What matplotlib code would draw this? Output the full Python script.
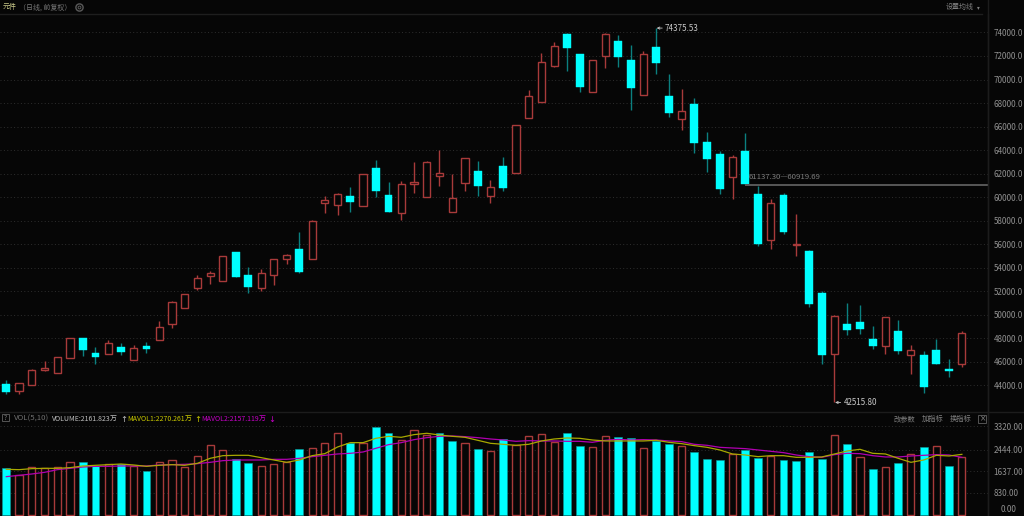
import matplotlib
matplotlib.use('Agg')
import matplotlib.pyplot as plt
from matplotlib.patches import Rectangle, Circle

# Daily candles
opens = [44060, 43520, 44030, 45310, 45050, 46300, 48000, 46750, 46670, 47270,
         46160, 47290, 47810, 49230, 50590, 52290, 53320, 52890, 55280, 53350,
         52290, 53400, 54710, 55590, 54740, 59450, 59280, 60060, 59230, 62470,
         60200, 58640, 61110, 60000, 61790, 58750, 61190, 62190, 60110, 62610,
         62020, 66730, 68090, 71160, 73830, 72130, 68950, 72010, 73290, 71700,
         68720, 72750, 68630, 66670, 67950, 64660, 63690, 61730, 63920, 60260,
         56300, 60200, 55900, 55420, 51810, 46670, 49200, 49340, 47890, 47290,
         48570, 46580, 46530, 47010, 45330, 45760]
closes = [43430, 44140, 45250, 45420, 46360, 48000, 46980, 46360, 47550, 46840,
          47120, 47070, 48940, 51040, 51720, 53090, 53510, 54970, 53230, 52350,
          53520, 54710, 55030, 53630, 57980, 59710, 60220, 59600, 61990, 60480,
          58720, 61110, 61250, 63010, 62040, 59940, 63350, 60910, 60850, 60800,
          66160, 68630, 71500, 72870, 72720, 69400, 71620, 73830, 71900, 69260,
          72210, 71420, 67160, 67330, 64630, 63240, 60680, 63410, 61137.30, 55960,
          59460, 57010, 55960, 50900, 46560, 49850, 48710, 48770, 47290, 49770,
          46930, 46950, 43830, 45760, 45220, 48400]
highs = [44430, 44140, 45330, 46070, 46360, 48000, 48000, 47240, 47830, 47600,
         47410, 47660, 49480, 51160, 51780, 53340, 53710, 54970, 55300, 54060,
         53860, 54710, 55160, 57010, 58010, 60080, 60330, 60870, 61990, 63120,
         61310, 61360, 63010, 63100, 64030, 61930, 63350, 63040, 61420, 63380,
         66160, 69090, 72240, 73230, 73920, 72130, 71620, 73970, 73770, 72920,
         72440, 74375.53, 70510, 69170, 68460, 65510, 63890, 63550, 65420, 60919.69,
         59800, 60310, 58570, 55530, 52010, 49940, 50960, 50820, 49030, 49770,
         49510, 47440, 46870, 47920, 46190, 48570]
lows = [43200, 43260, 44030, 45190, 45050, 46300, 46470, 45820, 46670, 46560,
        46160, 46700, 47810, 48880, 50590, 52070, 52630, 52890, 53230, 51870,
        51980, 52490, 54260, 53550, 54740, 58630, 58490, 58740, 59230, 60000,
        58720, 58010, 60340, 60000, 60940, 58750, 60510, 60090, 59490, 60540,
        62020, 66730, 68090, 71050, 70740, 68950, 68950, 70990, 71080, 67380,
        68720, 70510, 66790, 65740, 63750, 62160, 60260, 59830, 61137.30, 55790,
        55590, 56870, 54960, 50670, 45820, 42515.80, 48230, 48350, 47070, 46640,
        46640, 44940, 43350, 45760, 44710, 45510]

# Volume (unit 万) and whether its bar is red
volumes = [1747, 1485, 1785, 1747, 1785, 1997, 1997, 1835, 1897, 1909,
           1835, 1635, 1997, 2047, 1797, 2196, 2608, 2421, 2097, 1934,
           1822, 1897, 1997, 2484, 2496, 2683, 3058, 2708, 2683, 3307,
           3083, 2796, 3170, 2983, 3058, 2758, 2708, 2484, 2409, 2833,
           2608, 2958, 3020, 2721, 3083, 2571, 2533, 2945, 2908, 2895,
           2496, 2783, 2658, 2596, 2346, 2084, 2047, 2271, 2434, 2147,
           2221, 2047, 2022, 2359, 2097, 2983, 2658, 2159, 1722, 1810,
           1934, 2296, 2533, 2596, 1822, 2161.82]
vol_up = [0, 1, 1, 1, 1, 1, 0, 0, 1, 0, 1, 0, 1, 1, 1, 1, 1, 1, 0, 0,
          1, 1, 1, 0, 1, 1, 1, 0, 1, 0, 0, 1, 1, 1, 0, 0, 1, 0, 1, 0,
          1, 1, 1, 1, 0, 0, 1, 1, 0, 0, 1, 0, 0, 1, 0, 0, 0, 1, 0, 0,
          1, 0, 0, 0, 0, 1, 0, 1, 0, 1, 0, 1, 0, 1, 0, 1]
mavol1 = [1710, 1697, 1735, 1747, 1747, 1772, 1835, 1860, 1884, 1909,
          1872, 1822, 1860, 1884, 1860, 1934, 2122, 2221, 2234, 2234,
          2147, 2059, 1972, 2059, 2221, 2296, 2546, 2708, 2708, 2870,
          2945, 2908, 3008, 3058, 2995, 2945, 2908, 2796, 2683, 2646,
          2608, 2646, 2771, 2845, 2883, 2870, 2808, 2771, 2771, 2771,
          2771, 2796, 2721, 2671, 2596, 2533, 2434, 2284, 2246, 2184,
          2221, 2221, 2159, 2159, 2172, 2284, 2396, 2459, 2309, 2284,
          2122, 1972, 2059, 2234, 2209, 2270.26]
mavol2 = [1435, 1485, 1535, 1597, 1697, 1747, 1797, 1822, 1822, 1835,
          1835, 1835, 1872, 1884, 1897, 1922, 1972, 2034, 2059, 2059,
          2059, 2084, 2084, 2122, 2184, 2234, 2284, 2309, 2359, 2496,
          2633, 2708, 2820, 2895, 2945, 2958, 2933, 2895, 2845, 2808,
          2758, 2783, 2771, 2771, 2758, 2758, 2721, 2796, 2833, 2808,
          2820, 2808, 2771, 2746, 2646, 2608, 2533, 2508, 2484, 2434,
          2384, 2334, 2246, 2184, 2159, 2259, 2309, 2296, 2221, 2172,
          2172, 2209, 2234, 2259, 2246, 2157.12]

price_ticks = [74000, 72000, 70000, 68000, 66000, 64000, 62000, 60000, 58000,
               56000, 54000, 52000, 50000, 48000, 46000, 44000]
vol_ticks = [3320, 2444, 1637, 830]

BG = '#060606'
RED = '#a83a3a'
CYAN = '#00ffff'
TEAL = '#0b8080'
GRID = '#2e2e2e'
LABEL = '#909090'
FONT = ['Liberation Sans Narrow', 'Noto Sans CJK SC']
CJK = ['Noto Sans CJK SC', 'DejaVu Sans']
W, H = 1024, 516

fig = plt.figure(figsize=(W / 100, H / 100), dpi=100, facecolor=BG)

def px_axes(x0, y0, x1, y1):
    # axes from pixel box, y counted from the top
    return fig.add_axes([x0 / W, 1 - y1 / H, (x1 - x0) / W, (y1 - y0) / H], facecolor=BG)

ax = px_axes(0, 14, 988, 411)
vax = px_axes(0, 412, 988, 516)

xs = list(range(len(opens)))
xlim = (-0.4945, 77.05)

# candles
for i in xs:
    up = closes[i] >= opens[i]
    top = max(opens[i], closes[i])
    bot = min(opens[i], closes[i])
    ax.vlines(i, lows[i], highs[i], color=RED if up else TEAL, lw=1.0, zorder=2)
    if up:
        ax.bar(i, top - bot, bottom=bot, width=0.56, facecolor=BG, edgecolor=RED, lw=1.0, zorder=3)
    else:
        ax.bar(i, top - bot, bottom=bot, width=0.62, facecolor=CYAN, edgecolor=CYAN, lw=0.3, zorder=3)

ax.set_xlim(xlim)
ax.set_ylim(41790, 75574)
ax.set_yticks(price_ticks)
ax.set_yticklabels(['%.1f' % t for t in price_ticks], family=FONT, fontsize=5.8, color=LABEL)
ax.set_xticks([])
ax.yaxis.tick_right()
ax.tick_params(axis='y', length=0, pad=4)
ax.grid(axis='y', color=GRID, lw=0.7, ls=(0, (1, 2.5)), zorder=0)
ax.set_axisbelow(True)

# gap between 61137.30 and 60919.69
ax.fill_between([58, xlim[1]], 60919.69, 61137.30, color='#555555', lw=0, zorder=4)
ax.text(58.3, 61330, '61137.30—60919.69', family=FONT, fontsize=5.6, color='#7c7c7c', va='bottom')

# high and low marks
ax.annotate('74375.53', xy=(51.05, 74375.53), xytext=(51.7, 74375.53), family=FONT, fontsize=5.8,
            color='#c8c8c8', va='center',
            arrowprops=dict(arrowstyle='->', color='#c8c8c8', lw=0.6, mutation_scale=4, shrinkA=0, shrinkB=0))
ax.annotate('42515.80', xy=(65.05, 42515.80), xytext=(65.7, 42515.80), family=FONT, fontsize=5.8,
            color='#c8c8c8', va='center',
            arrowprops=dict(arrowstyle='->', color='#c8c8c8', lw=0.6, mutation_scale=4, shrinkA=0, shrinkB=0))

# volume bars
for i in xs:
    if vol_up[i]:
        vax.bar(i, volumes[i], width=0.56, facecolor=BG, edgecolor=RED, lw=1.0, zorder=2)
    else:
        vax.bar(i, volumes[i], width=0.62, facecolor=CYAN, edgecolor='#0a9a9a', lw=0.4, zorder=2)
vax.plot(xs, mavol2, color='#b000b0', lw=0.9, zorder=3)
vax.plot(xs, mavol1, color='#a8a800', lw=0.9, zorder=4)

vax.set_xlim(xlim)
vax.set_ylim(-37, 3855)
vax.set_yticks(vol_ticks)
vax.set_yticklabels(['%.2f' % t for t in vol_ticks], family=FONT, fontsize=5.8, color=LABEL)
vax.set_xticks([])
vax.yaxis.tick_right()
vax.tick_params(axis='y', length=0, pad=4)
vax.grid(axis='y', color=GRID, lw=0.7, ls=(0, (1, 2.5)), zorder=0)
vax.set_axisbelow(True)

for a in (ax, vax):
    for name, s in a.spines.items():
        s.set_visible(name == 'right')
        s.set_color('#1c1c1c')
        s.set_linewidth(1.0)

# panel separators
fig.add_artist(plt.Line2D([0, 982 / W], [1 - 13.5 / H] * 2, color='#1e1e1e', lw=1.0))
fig.add_artist(plt.Line2D([0, 1], [1 - 411.5 / H] * 2, color='#1c1c1c', lw=1.0))
fig.add_artist(plt.Line2D([987.5 / W] * 2, [0, 1], color='#1c1c1c', lw=1.0))

def put(x, y, s, color, family=FONT, size=5.0):
    fig.text(x / W, 1 - y / H, s, family=family, fontsize=size, color=color, va='center', ha='left')

put(1001, 510, '0.00', LABEL, FONT, 5.8)

# header
put(3, 7.5, '元件', '#c8c888', CJK, 5.0)
put(19, 7.5, '（日线, 前复权）', '#787878', CJK, 5.0)
fig.add_artist(Circle((79.5, H - 7.5), 3.6, transform=None, fill=False, ec='#5a5a5a', lw=1.0))
fig.add_artist(Circle((79.5, H - 7.5), 1.4, transform=None, fill=False, ec='#5a5a5a', lw=0.7))
put(946, 7.5, '设置均线', '#808080', CJK, 5.0)
put(977, 7.5, '▾', '#808080', ['DejaVu Sans'], 4)

# volume header
fig.add_artist(Rectangle((1.5, H - 421), 7, 7.5, transform=None, fill=False, ec='#555555', lw=0.7))
put(3.4, 417.5, '?', '#777777', size=5)
put(14, 419, 'VOL(5,10)', '#707070', size=5.6)
put(52, 419, 'VOLUME:2161.823', '#c0c0c0')
put(110, 419, '万', '#c0c0c0', CJK, 5.0)
put(120, 419, '↑', '#c0c0c0', ['DejaVu Sans'], 6)
put(127, 419, 'MAVOL1:2270.261', '#c8c800')
put(185, 419, '万', '#c8c800', CJK, 5.0)
put(194, 419, '↑', '#c8c800', ['DejaVu Sans'], 6)
put(201, 419, 'MAVOL2:2157.119', '#c800c8')
put(259, 419, '万', '#c800c8', CJK, 5.0)
put(268, 419, '↓', '#c800c8', ['DejaVu Sans'], 6)

put(894, 419, '改参数', '#808080', CJK, 5.2)
put(922, 419, '加指标', '#808080', CJK, 5.2)
put(950, 419, '换指标', '#808080', CJK, 5.2)
fig.add_artist(Rectangle((978, H - 423), 8, 8, transform=None, fill=False, ec='#555555', lw=0.7))
put(979.8, 418.7, '×', '#808080', ['DejaVu Sans'], 5.5)

fig.savefig('out.png', dpi=100, facecolor=BG)
